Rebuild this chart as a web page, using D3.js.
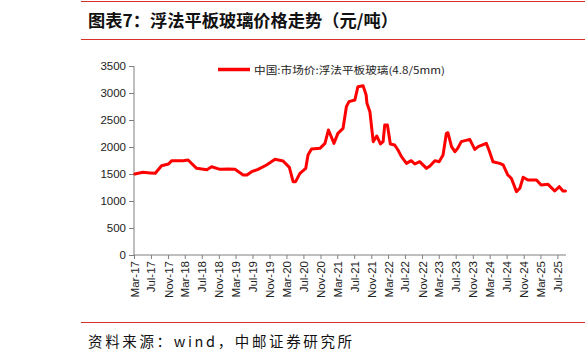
<!DOCTYPE html>
<html><head><meta charset="utf-8">
<script src="https://cdn.jsdelivr.net/npm/d3@7"></script>
<style>body{margin:0;background:#fff}svg{display:block}</style>
</head><body>
<svg id="c" width="585" height="362"></svg>
<script>
const title = "图表7：浮法平板玻璃价格走势（元/吨）";
const source = "资料来源：wind，中邮证券研究所";
const seriesName = "中国:市场价:浮法平板玻璃(4.8/5mm)";
const dates = ["2017-03-07","2017-05-04","2017-06-25","2017-08-01","2017-09-15","2017-11-04","2017-11-28","2018-02-18","2018-03-25","2018-05-25","2018-08-07","2018-09-10","2018-11-10","2019-01-10","2019-02-25","2019-04-25","2019-05-22","2019-06-25","2019-08-10","2019-10-10","2019-12-10","2020-02-06","2020-03-22","2020-04-18","2020-05-06","2020-06-06","2020-07-18","2020-08-03","2020-08-28","2020-10-28","2020-12-03","2020-12-28","2021-01-12","2021-02-06","2021-03-06","2021-04-12","2021-05-06","2021-05-25","2021-07-06","2021-07-28","2021-09-03","2021-09-25","2021-10-01","2021-10-22","2021-11-15","2021-12-10","2022-01-06","2022-01-25","2022-02-06","2022-02-25","2022-03-18","2022-04-18","2022-05-12","2022-06-06","2022-07-12","2022-08-15","2022-09-10","2022-10-15","2022-12-03","2022-12-28","2023-02-01","2023-03-04","2023-04-01","2023-04-25","2023-05-06","2023-06-01","2023-06-25","2023-07-15","2023-08-10","2023-10-10","2023-11-15","2023-12-10","2024-02-06","2024-02-25","2024-03-25","2024-05-12","2024-06-06","2024-07-10","2024-08-04","2024-09-10","2024-10-04","2024-10-28","2024-12-01","2025-02-01","2025-03-06","2025-04-25","2025-06-12","2025-07-15","2025-08-10","2025-08-28"];
const values = [1500,1531,1520,1513,1654,1685,1747,1747,1759,1605,1580,1635,1586,1593,1586,1481,1481,1543,1586,1667,1772,1740,1623,1358,1358,1512,1605,1852,1963,1975,2068,2315,2222,2068,2253,2346,2747,2840,2871,3117,3136,2963,2809,2654,2099,2204,2056,2099,2408,2408,2056,2037,1944,1821,1697,1747,1685,1728,1605,1648,1747,1728,1852,2253,2265,2006,1913,1975,2099,2142,1957,2006,2068,1944,1728,1697,1667,1481,1420,1173,1235,1439,1389,1389,1296,1308,1185,1265,1185,1185];
const yTicks = [0,500,1000,1500,2000,2500,3000,3500];
const xTickLabels = ["Mar-17","Jul-17","Nov-17","Mar-18","Jul-18","Nov-18","Mar-19","Jul-19","Nov-19","Mar-20","Jul-20","Nov-20","Mar-21","Jul-21","Nov-21","Mar-22","Jul-22","Nov-22","Mar-23","Jul-23","Nov-23","Mar-24","Jul-24","Nov-24","Mar-25","Jul-25"];
const xStart = "2017-03-01", xEnd = "2025-09-01";

const svg = d3.select("#c");
const parse = d3.timeParse("%Y-%m-%d");
const parseTick = d3.timeParse("%b-%y");
const data = dates.map((d,i)=>({d:parse(d), v:values[i]}));
const L=134, R=566, T=66, B=255;
const x = d3.scaleTime().domain([parse(xStart), parse(xEnd)]).range([L,R]);
const y = d3.scaleLinear().domain([0,3500]).range([B,T]);

// frame lines
[1.5, 39.5, 322.5].forEach(yy =>
  svg.append("line").attr("x1",81).attr("x2",585).attr("y1",yy).attr("y2",yy).attr("stroke","#d9302c").attr("stroke-width",1.2));

svg.append("text").attr("x",88).attr("y",27).text(title)
  .attr("font-family","'Noto Sans CJK SC'").attr("font-weight","bold").attr("font-size",17)
  .attr("textLength",310).attr("lengthAdjust","spacingAndGlyphs").attr("fill","#111");
svg.append("text").attr("x",88).attr("y",347).text(source)
  .attr("font-family","'Noto Sans CJK SC'").attr("font-size",14.5)
  .attr("textLength",264).attr("lengthAdjust","spacing").attr("fill","#111");

// axes
const yAxis = d3.axisLeft(y).tickValues(yTicks).tickSize(5).tickPadding(3).tickFormat(d3.format("d"));
const gy = svg.append("g").attr("transform",`translate(${L},0)`).call(yAxis);
gy.select(".domain").attr("stroke","#7f7f7f").attr("d",`M0,${B}V${T}`);
gy.selectAll(".tick line").attr("stroke","#7f7f7f");
gy.selectAll("text").attr("font-family","Liberation Sans, Arial").attr("font-size",11.5).attr("fill","#222");

const xTicks = xTickLabels.map(parseTick);
const xAxis = d3.axisBottom(x).tickValues(xTicks).tickSize(4).tickFormat(d3.timeFormat("%b-%y"));
const gx = svg.append("g").attr("transform",`translate(0,${B})`).call(xAxis);
gx.select(".domain").attr("stroke","#7f7f7f").attr("d",`M${L},0H${R}`);
gx.selectAll(".tick line").attr("stroke","#7f7f7f");
gx.selectAll(".tick text").attr("font-family","Liberation Sans, Arial").attr("font-size",11.5).attr("fill","#222")
  .attr("transform","rotate(-90)").attr("text-anchor","end").attr("x",-6).attr("y",0).attr("dy","0.35em");

// line
svg.append("path").datum(data).attr("fill","none").attr("stroke","#ff0000").attr("stroke-width",3)
  .attr("stroke-linejoin","round").attr("stroke-linecap","round")
  .attr("d", d3.line().x(d=>x(d.d)).y(d=>y(d.v)));

// legend
svg.append("line").attr("x1",218).attr("x2",250).attr("y1",69.5).attr("y2",69.5).attr("stroke","#ff0000").attr("stroke-width",3.5);
svg.append("text").attr("x",254).attr("y",73.5).text(seriesName)
  .attr("font-family","'Noto Sans CJK SC'").attr("font-size",10).attr("fill","#222")
  .attr("textLength",191).attr("lengthAdjust","spacingAndGlyphs");
</script>
</body></html>
